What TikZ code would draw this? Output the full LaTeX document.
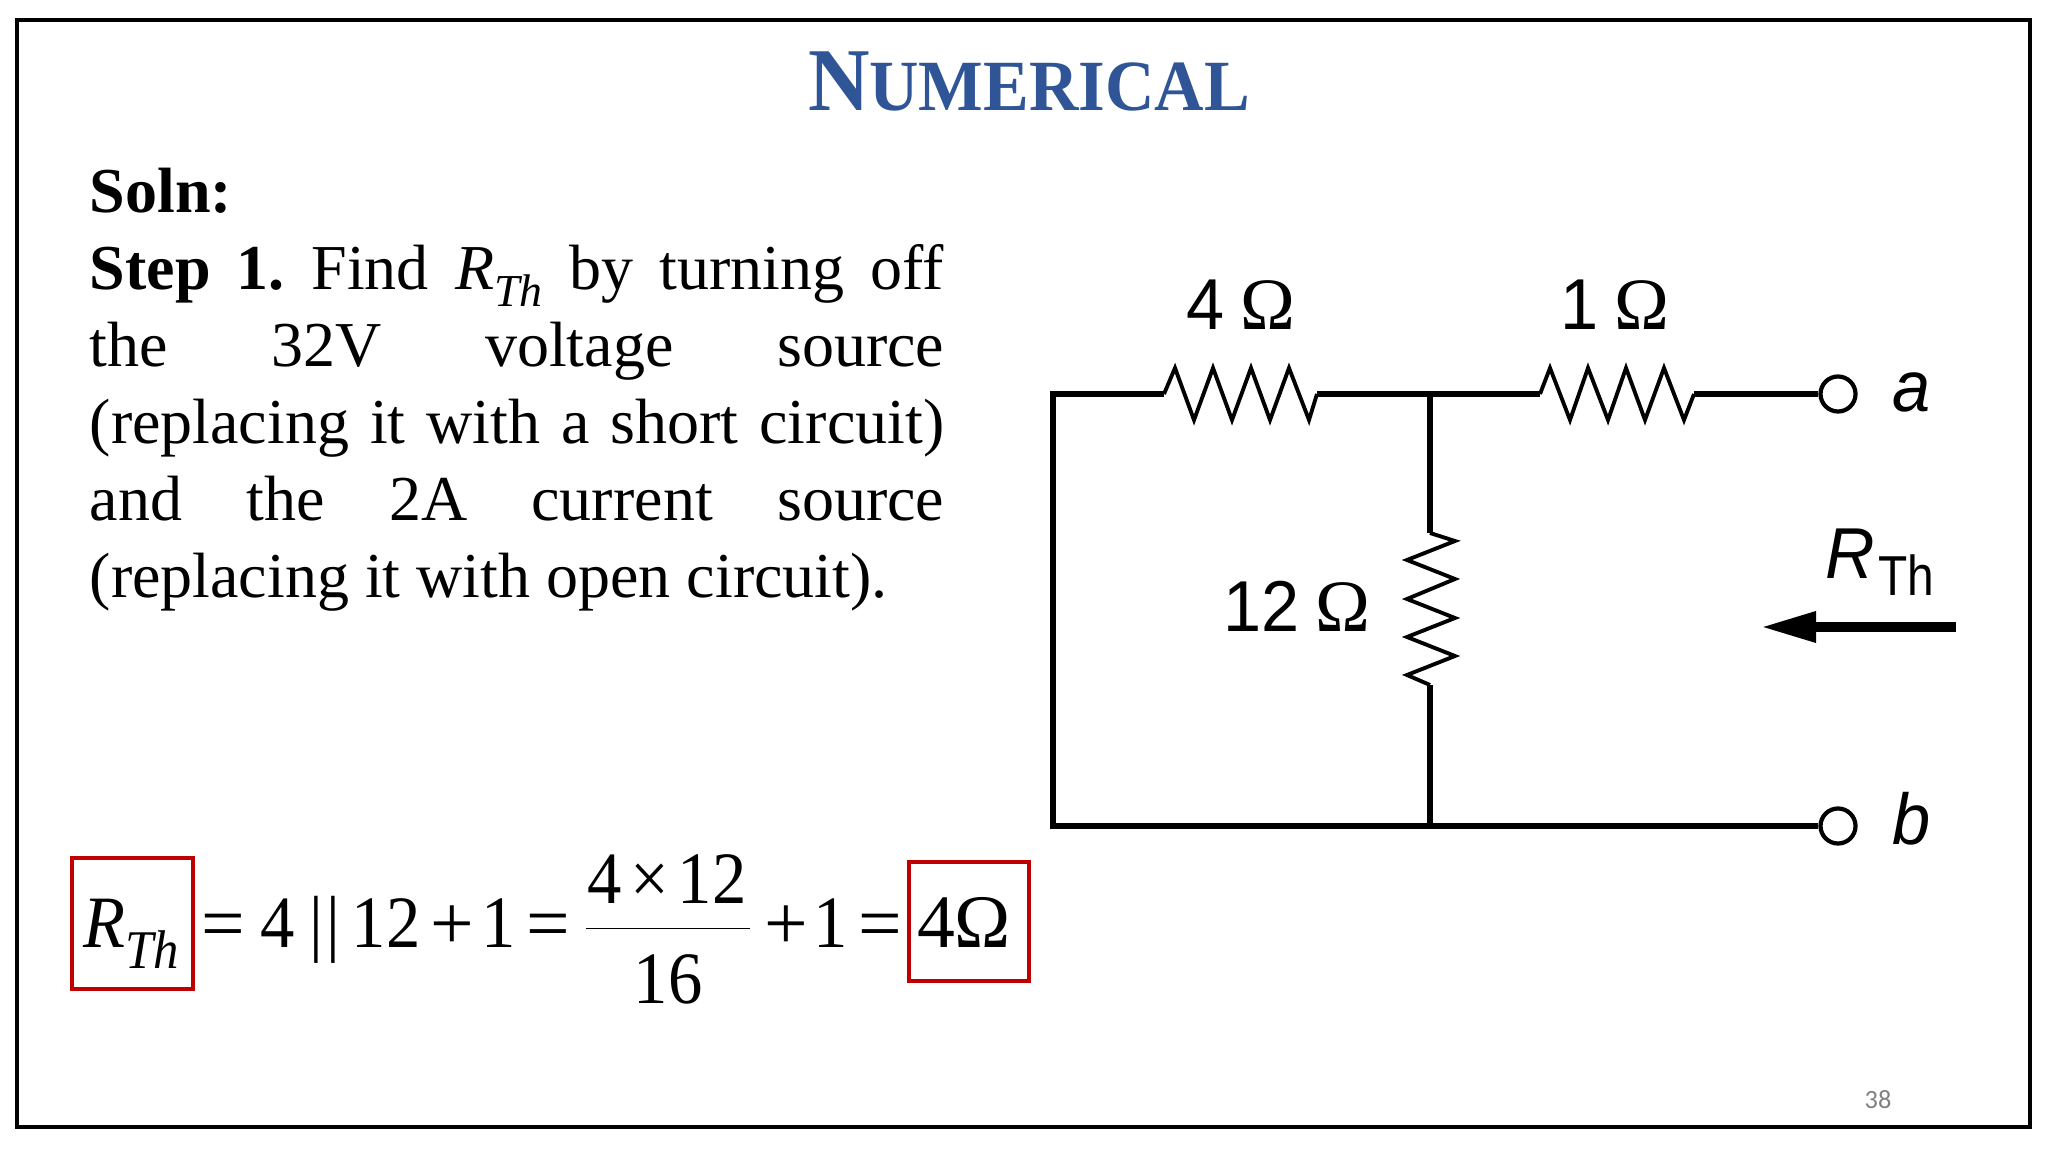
\documentclass[tikz,border=0pt]{standalone}
\usepackage{fontspec}
\setmainfont{Liberation Serif}
\setsansfont{Liberation Sans}
\setmonofont{Carlito}
\newfontfamily\eqfont[FakeStretch=0.93]{Liberation Serif}
\newfontfamily\labfont[FakeStretch=0.95]{Liberation Sans}
\newfontfamily\thfont[FakeStretch=0.85]{Liberation Sans}
\usetikzlibrary{arrows.meta}
\definecolor{titleblue}{HTML}{2F5597}
\definecolor{boxred}{HTML}{C00000}
\newcommand{\fsz}[1]{\fontsize{#1}{#1}\selectfont}
\newcommand{\Rthtext}{\textit{R}\raisebox{-5pt}{\fsz{13}\textit{Th}}}
\newcommand{\ohm}{\kern4.6pt{\rmfamily\fsz{21}Ω}}
\tikzset{
  wire/.style={line width=1.6pt, line join=miter},
  zig/.style={line width=1.1pt, line join=miter},
  term/.style={draw, circle, line width=1.2pt, minimum size=0.35cm, inner sep=0pt},
  lab/.style={anchor=base, inner sep=0pt, font=\labfont\fsz{20.5}},
  eq/.style={anchor=base, inner sep=0pt, font=\eqfont\fsz{21}},
  eqop/.style={eq, font=\rmfamily\fsz{22}},
  redbox/.style={draw=boxred, line width=1.1pt},
}
\begin{document}
\begin{tikzpicture}[x=0.01cm, y=-0.01cm]
  \useasboundingbox (0,0) rectangle (2048,1152);
  \draw[line width=1.2pt] (17,20) rectangle (2030,1127);

  \node[anchor=base, inner sep=0pt, text=titleblue, font=\bfseries, xscale=0.95, transform shape] (title) at (1029,111)
    {\fsz{25.5}N\fsz{20.5}UMERICAL};

  \node[anchor=north west, inner sep=0pt, text width=8.54cm, align=justify,
        font=\fsz{18.2}, execute at begin node={\frenchspacing\setlength{\baselineskip}{21.9pt}}] (soln) at (89,167)
    {\textbf{Soln:}\linebreak
     \textbf{Step 1.} Find \Rthtext{} by turning off\linebreak
     the 32V voltage source\linebreak
     (replacing it with a short circuit)\linebreak
     and the 2A current source\linebreak
     (replacing it with open circuit).};

  % circuit
  \coordinate (tl) at (1053,394);
  \coordinate (bl) at (1053,826);
  \coordinate (top) at (1430,394);
  \coordinate (bot) at (1430,826);
  \node[term] (a) at (1838,394) {};
  \node[term] (b) at (1838,826) {};
  \coordinate (r1in) at (1164,394);
  \coordinate (r1out) at (1317,394);
  \coordinate (r2in) at (1540,394);
  \coordinate (r2out) at (1694,394);
  \coordinate (r3in) at (1430,533);
  \coordinate (r3out) at (1430,685);

  \draw[wire] (r1in) -- (tl) -- (bl) -- (bot) -- (b);
  \draw[wire] (r1out) -- (top) -- (r2in);
  \draw[wire] (r2out) -- (a);
  \draw[wire] (top) -- (r3in);
  \draw[wire] (r3out) -- (bot);
  \draw[zig] (r1in) -- (1175,368) -- (1194,420) -- (1213,368) -- (1232,420) -- (1251,368)
    -- (1270,420) -- (1289,368) -- (1309,420) -- (r1out);
  \draw[zig] (r2in) -- (1550,368) -- (1570,420) -- (1588,368) -- (1608,420) -- (1626,368)
    -- (1645,420) -- (1664,368) -- (1684,420) -- (r2out);
  \draw[zig] (r3in) -- (1455,541) -- (1407,560) -- (1455,579) -- (1407,599) -- (1455,618)
    -- (1407,637) -- (1455,656) -- (1407,675) -- (r3out);

  \node[lab] (r1lab) at (1241,330) {4\ohm};
  \node[lab] (r2lab) at (1615,330) {1\ohm};
  \node[lab] (r3lab) at (1297,631) {12\ohm};
  \node[lab, anchor=base west] (alab) at (1892,412) {\textit{a}};
  \node[lab, anchor=base west] (blab) at (1892,844) {\textit{b}};
  \node[lab, anchor=base west] (rth) at (1825,578)
    {\textit{R}\raisebox{-5pt}{\thfont\fsz{16}\kern1pt Th}};

  \coordinate (arrowtail) at (1956,627);
  \coordinate (arrowtip) at (1761,627);
  \draw[-{Triangle[length=0.55cm, width=0.29cm]}, line width=0.095cm] (arrowtail) -- (arrowtip);

  % equation
  \node[redbox, minimum width=1.21cm, minimum height=1.31cm] (boxr) at (132.5,923.5) {};
  \node[redbox, minimum width=1.20cm, minimum height=1.19cm] (boxo) at (969,921.5) {};
  \node[eq, anchor=base west] (eqr) at (83,947) {\textit{R}\raisebox{-6pt}{\fsz{15.5}\textit{Th}}};
  \foreach \n/\x/\t in {e2/278/4, e3/325/{|\kern1pt|}, e4/386/12, e6/499/1, e9/831/1}
    \node[eq] (\n) at (\x,947) {\t};
  \foreach \n/\x/\t in {e1/223/=, e5/452/+, e7/548/=, e8/786/+, e10/880/=}
    \node[eqop] (\n) at (\x,949) {\t};
  \node[eq, font=\rmfamily\fsz{21.5}] (e11) at (964,947) {4Ω};
  \node[eq] (f1) at (667,903) {4\kern2.5pt×\kern2.5pt12};
  \node[eq] (f2) at (668,1003) {16};
  \draw[line width=0.4pt] (586,928.5) -- (750,928.5);

  \node[anchor=base, inner sep=0pt, text=gray, font=\ttfamily\fsz{7.5}] (pageno) at (1878,1108) {38};
\end{tikzpicture}
\end{document}
